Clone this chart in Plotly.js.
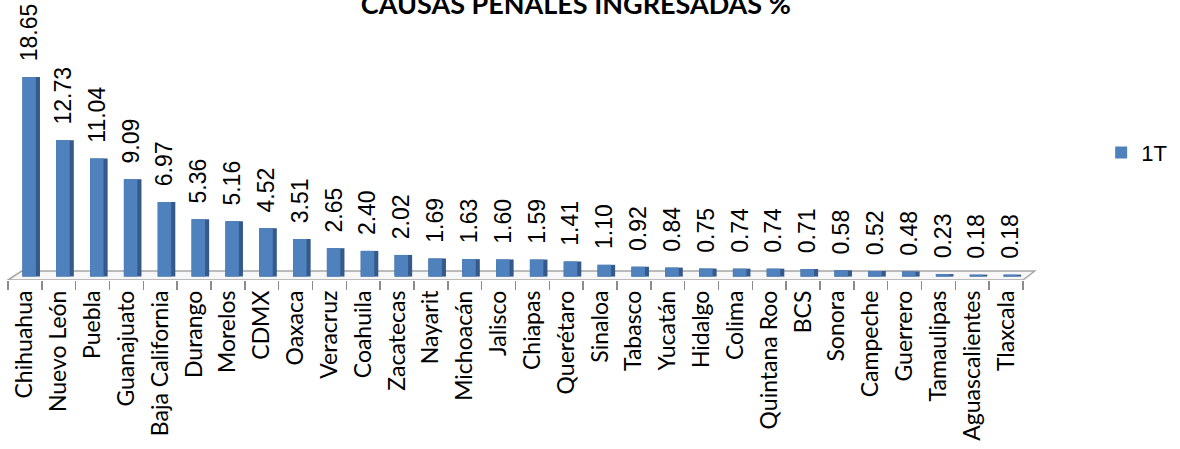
<!DOCTYPE html>
<html>
<head>
<meta charset="utf-8">
<script src="https://cdn.plot.ly/plotly-3.0.1.min.js"></script>
<style>
  html, body { margin: 0; padding: 0; background: #fff; }
  #chart { width: 1180px; height: 449px; }
</style>
</head>
<body>
<div id="chart"></div>
<script>
var estados = ['Chihuahua', 'Nuevo León', 'Puebla', 'Guanajuato', 'Baja California', 'Durango',
  'Morelos', 'CDMX', 'Oaxaca', 'Veracruz', 'Coahuila', 'Zacatecas', 'Nayarit', 'Michoacán',
  'Jalisco', 'Chiapas', 'Querétaro', 'Sinaloa', 'Tabasco', 'Yucatán', 'Hidalgo', 'Colima',
  'Quintana Roo', 'BCS', 'Sonora', 'Campeche', 'Guerrero', 'Tamaulipas', 'Aguascalientes', 'Tlaxcala'];

var porcentaje1T = [18.65, 12.73, 11.04, 9.09, 6.97, 5.36, 5.16, 4.52, 3.51, 2.65, 2.40, 2.02,
  1.69, 1.63, 1.60, 1.59, 1.41, 1.10, 0.92, 0.84, 0.75, 0.74, 0.74, 0.71, 0.58, 0.52, 0.48,
  0.23, 0.18, 0.18];

var serieNombre = '1T';

// dark side of the "3d" bars, drawn under the front face
var lado = {
  x: estados,
  y: porcentaje1T,
  type: 'bar',
  width: 0.52,
  offset: -0.075,
  marker: { color: '#34598A' },
  showlegend: false,
  hoverinfo: 'skip'
};

var frente = {
  x: estados,
  y: porcentaje1T,
  name: serieNombre,
  type: 'bar',
  width: 0.40,
  offset: -0.075,
  marker: { color: '#4F81BD' },
  text: porcentaje1T.map(function (v) { return '\u00a0\u00a0' + v.toFixed(2); }),
  textposition: 'outside',
  textangle: -90,
  constraintext: 'none',
  cliponaxis: false,
  textfont: { family: 'Liberation Sans, Arial, sans-serif', size: 23, color: '#000' }
};

var layout = {
  width: 1180,
  height: 449,
  margin: { l: 8, r: 132, t: 40, b: 169 },
  paper_bgcolor: '#fff',
  plot_bgcolor: 'rgba(0,0,0,0)',
  barmode: 'overlay',
  title: {
    text: '<b>CAUSAS PENALES INGRESADAS %</b>',
    font: { family: 'Lato, sans-serif', size: 27, color: '#000' },
    xref: 'container', x: 0.488, xanchor: 'center',
    yref: 'container', y: 0.99, yanchor: 'middle'
  },
  xaxis: {
    type: 'category',
    range: [-0.5, 29.5],
    tickangle: -90,
    tickson: 'boundaries',
    ticks: 'outside',
    ticklen: 9,
    tickwidth: 1.5,
    tickcolor: '#8C8C8C',
    ticklabelstandoff: 5,
    showline: false,
    showgrid: false,
    tickfont: { family: 'Lato, sans-serif', size: 23, color: '#000' }
  },
  yaxis: {
    range: [-0.32, 22.11],
    visible: false,
    showgrid: false,
    zeroline: false
  },
  showlegend: true,
  legend: {
    x: 1.077, xanchor: 'left',
    y: 0.53, yanchor: 'middle',
    font: { family: 'Liberation Sans, Arial, sans-serif', size: 22, color: '#000' },
    itemwidth: 30
  },
  shapes: [
    {
      // floor plate of the 3d chart
      type: 'path',
      xref: 'paper', yref: 'y',
      path: 'M 0 -0.32 L 0.0135 0.52 L 1.0115 0.52 L 1.0 -0.32 Z',
      fillcolor: '#F7F7F7',
      line: { color: '#A6A6A6', width: 1.5 },
      layer: 'below'
    }
  ],
  hovermode: false
};

Plotly.newPlot('chart', [lado, frente], layout, { displayModeBar: false, staticPlot: true });
</script>
</body>
</html>
